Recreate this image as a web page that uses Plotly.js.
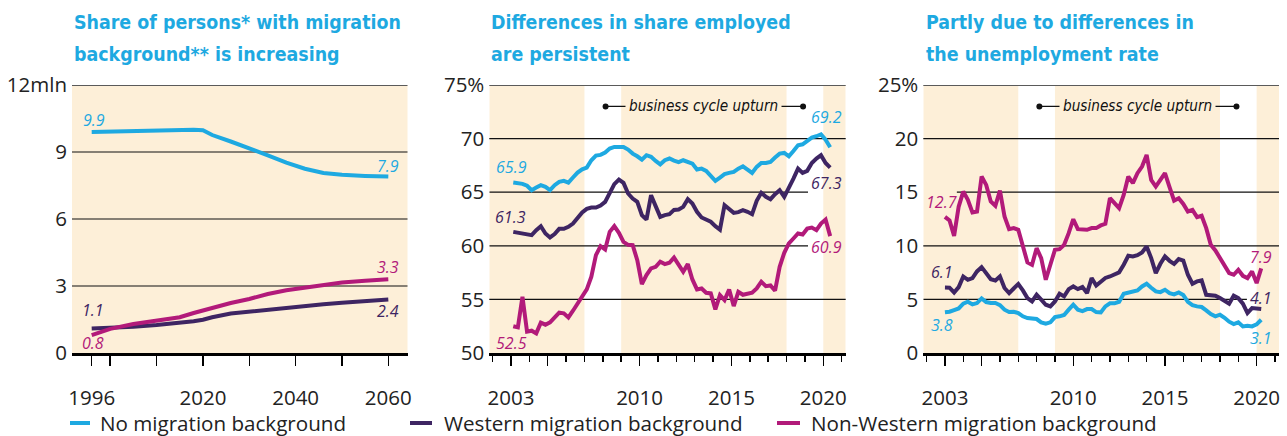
<!DOCTYPE html>
<html><head><meta charset="utf-8">
<script src="https://cdn.plot.ly/plotly-3.0.1.min.js"></script>
<style>html,body{margin:0;padding:0;background:#fff;}#chart{width:1287px;height:436px;}</style>
</head><body><div id="chart"></div>
<script>
// ---------- DATA ----------
// Panel 1: population (mln) by migration background, 1996-2060
const popYears = [1996, 2000, 2005, 2010, 2015, 2018, 2020, 2022, 2026, 2030, 2034, 2038, 2042, 2046, 2050, 2055, 2060];
const popNone = [9.9, 9.92, 9.93, 9.95, 9.99, 10.0, 9.97, 9.76, 9.47, 9.18, 8.85, 8.52, 8.25, 8.06, 7.98, 7.93, 7.9];
const popWestern = [1.1, 1.13, 1.18, 1.25, 1.34, 1.42, 1.49, 1.6, 1.77, 1.86, 1.94, 2.02, 2.1, 2.18, 2.25, 2.31, 2.4];
const popNonWestern = [0.8, 1.08, 1.3, 1.47, 1.6, 1.79, 1.91, 2.0, 2.24, 2.42, 2.64, 2.81, 2.94, 3.07, 3.16, 3.24, 3.3];

// Quarters 2003Q1 .. 2020Q2
const quarterLabels = [];
for (let y = 2003; y <= 2020; y++) for (let q = 1; q <= 4; q++) if (!(y === 2020 && q > 2)) quarterLabels.push(y + 'Q' + q);
const quarterX = quarterLabels.map(s => +s.slice(0, 4) + (+s.slice(5) - 1) / 4);
const empQuarterX = quarterX.map(v => v + 0.125);

// Panel 2: share employed (%)
const empNone = [65.9, 65.84, 65.78, 65.6, 65.19, 65.43, 65.65, 65.5, 65.19, 65.65,
  65.96, 66.06, 65.9, 66.37, 66.83, 67.14, 67.3, 67.98, 68.42, 68.48,
  68.7, 69.07, 69.22, 69.22, 69.22, 68.98, 68.6, 68.35, 68.04, 68.45,
  68.3, 67.92, 67.6, 67.98, 68.14, 67.94, 67.8, 67.98, 67.83, 67.67,
  67.11, 67.2, 66.99, 66.58, 66.06, 66.37, 66.68, 66.8, 66.9, 67.2,
  67.42, 67.11, 66.8, 67.36, 67.73, 67.73, 67.83, 68.23, 68.6, 68.66,
  68.35, 68.85, 69.38, 69.47, 69.84, 70.09, 70.22, 70.4, 69.9, 69.2];
const empWestern = [61.3, 61.21, 61.15, 61.09, 60.99, 61.46, 61.83, 61.15, 60.78, 61.09,
  61.58, 61.58, 61.77, 62.08, 62.64, 63.11, 63.45, 63.57, 63.57, 63.76,
  64.1, 64.94, 65.75, 66.18, 65.87, 64.88, 64.41, 64.1, 62.86, 62.45,
  64.72, 63.7, 62.7, 62.86, 62.95, 63.35, 63.39, 63.63, 64.35, 63.94,
  63.17, 62.64, 62.45, 62.24, 61.83, 61.5, 63.79, 63.39, 63.07, 63.14,
  63.32, 63.17, 62.95, 64.19, 64.94, 64.57, 64.35, 64.81, 65.19, 64.57,
  65.34, 66.27, 67.2, 66.8, 66.99, 67.73, 68.14, 68.45, 67.73, 67.3];
const empNonWestern = [52.5, 52.39, 55.25, 51.99, 52.08, 51.83, 52.83, 52.64, 52.86, 53.32,
  53.76, 53.7, 53.32, 53.94, 54.63, 55.4, 55.93, 57.11, 59.13, 59.97,
  59.66, 61.3, 61.83, 61.21, 60.37, 60.09, 60.06, 58.66, 56.43, 57.27,
  57.89, 58.04, 58.51, 58.29, 58.42, 58.9, 58.2, 57.58, 58.29, 56.86,
  55.93, 56.02, 55.62, 55.56, 54.07, 55.4, 54.94, 55.93, 54.38, 55.71,
  55.43, 55.56, 55.62, 56.02, 56.65, 56.24, 56.3, 55.81, 58.04, 59.35,
  60.22, 60.68, 61.15, 61.06, 61.6, 61.7, 61.46, 62.08, 62.45, 60.9];

// Panel 3: unemployment rate (%)
const unNone = [3.8, 3.85, 4.01, 4.16, 4.6, 4.78, 4.53, 4.66, 5.09, 4.75,
  4.66, 4.66, 4.47, 4.04, 3.82, 3.85, 3.73, 3.42, 3.26, 3.26,
  3.17, 2.86, 2.73, 2.86, 3.35, 3.42, 3.54, 4.04, 4.5, 4.04,
  3.91, 4.1, 4.1, 3.82, 3.79, 4.35, 4.63, 4.63, 4.78, 5.53,
  5.65, 5.71, 5.84, 6.21, 6.46, 6.09, 5.75, 5.68, 5.9, 5.59,
  5.47, 5.65, 5.4, 4.78, 4.47, 4.35, 4.29, 3.98, 3.63, 3.42,
  3.57, 3.29, 2.92, 2.7, 2.86, 2.48, 2.55, 2.48, 2.67, 3.1];
const unWestern = [6.1, 6.09, 5.65, 6.15, 7.14, 6.83, 6.99, 7.61, 8.01, 7.39,
  6.89, 6.77, 7.14, 6.06, 5.59, 6.02, 6.43, 5.84, 5.12, 4.81,
  5.43, 4.97, 4.5, 4.35, 4.81, 5.53, 5.28, 5.96, 6.21, 5.96,
  6.15, 5.59, 6.99, 6.3, 6.7, 7.0, 7.14, 7.3, 7.52, 8.23,
  9.07, 9.01, 9.13, 9.38, 9.94, 8.85, 7.45, 8.32, 9.01, 8.6,
  8.32, 8.76, 8.63, 7.3, 6.46, 6.68, 6.77, 5.43, 5.43, 5.34,
  5.12, 4.91, 4.6, 5.34, 5.12, 4.6, 3.73, 4.19, 4.1, 4.1];
const unNonWestern = [12.7, 12.36, 10.93, 13.66, 15.06, 14.29, 13.11, 13.2, 16.46, 15.68,
  14.13, 13.73, 15.16, 12.73, 11.55, 11.65, 11.49, 10.09, 8.45, 8.23,
  9.78, 8.85, 6.83, 8.23, 9.63, 9.69, 10.09, 11.18, 12.48, 11.55,
  11.49, 11.49, 11.65, 11.65, 11.9, 12.05, 14.44, 13.91, 13.51, 14.75,
  16.46, 15.84, 16.77, 17.39, 18.48, 16.15, 15.53, 16.15, 16.77, 15.47,
  14.22, 14.44, 13.91, 13.2, 13.35, 12.67, 12.8, 11.65, 10.09, 9.57,
  8.85, 8.07, 7.45, 7.3, 7.76, 7.2, 6.99, 7.61, 6.52, 7.9];

const seriesNames = ['No migration background', 'Western migration background', 'Non-Western migration background'];
const titles = [
  ['Share of persons* with migration', 'background** is increasing'],
  ['Differences in share employed', 'are persistent'],
  ['Partly due to differences in', 'the unemployment rate']
];
const upturnLabel = 'business cycle upturn';
// business cycle upturn periods (white bands) and marker positions
const upturnBands = [[2007, 2009], [2018, 2020]];
const upturnMarks = [2008.15, 2018.9];

// ---------- STYLE ----------
const C = ['#1ea9e1', '#3e2563', '#b21a7a'];
const BEIGE = '#fdefd8';
const FONT = 'Open Sans, Noto Sans, sans-serif';
const NARROW = 'Liberation Sans Narrow, DejaVu Sans Condensed, Roboto, sans-serif';
const LW = 4;

const W = 1287, H = 436;
const yDom = [83 / H, 351 / H];
const xDom = [[72 / W, 407.5 / W], [489.3 / W, 845.7 / W], [923.3 / W, 1279 / W]];
const r1 = [1991.75, 2064.14], rq = [2001.82, 2021.22];

function line(x, y, xa, ya, c) {
  return {x: x, y: y, xaxis: xa, yaxis: ya, type: 'scatter', mode: 'lines',
    line: {color: c, width: LW}, showlegend: false, hoverinfo: 'skip'};
}
const traces = [
  line(popYears, popNone, 'x', 'y', C[0]),
  line(popYears, popWestern, 'x', 'y', C[1]),
  line(popYears, popNonWestern, 'x', 'y', C[2]),
  line(empQuarterX, empNone, 'x2', 'y2', C[0]),
  line(empQuarterX, empWestern, 'x2', 'y2', C[1]),
  line(empQuarterX, empNonWestern, 'x2', 'y2', C[2]),
  line(quarterX, unNone, 'x3', 'y3', C[0]),
  line(quarterX, unWestern, 'x3', 'y3', C[1]),
  line(quarterX, unNonWestern, 'x3', 'y3', C[2])
];

const tickFont = {family: FONT, size: 20.5, color: '#222'};
function xax(dom, range, tv, tt, minor) {
  const a = {domain: dom, range: range, tickmode: 'array', tickvals: tv, ticktext: tt,
    ticks: 'outside', ticklen: 10, tickwidth: 1.5, tickcolor: '#000',
    showline: true, linecolor: '#000', linewidth: 3, showgrid: false, zeroline: false,
    tickfont: tickFont, ticklabelstandoff: 14, fixedrange: true};
  if (minor) a.minor = {tickmode: 'linear', tick0: 2003, dtick: 1, ticks: 'outside', ticklen: 6, tickwidth: 1.5, tickcolor: '#000', showgrid: false};
  return a;
}
function yax(range, tv, tt, anchor) {
  return {domain: yDom, range: range, anchor: anchor, tickmode: 'array', tickvals: tv, ticktext: tt,
    ticks: '', showline: false, showgrid: false, zeroline: false, tickfont: tickFont, ticklabelstandoff: 4, fixedrange: true};
}

const shapes = [];
const annotations = [];
// background bands
shapes.push({type: 'rect', layer: 'below', xref: 'x domain', yref: 'y domain', x0: 0, x1: 1, y0: 0, y1: 1, fillcolor: BEIGE, line: {width: 0}});
[['x2', 'y2'], ['x3', 'y3']].forEach(([xr, yr]) => {
  const edges = [rq[0], upturnBands[0][0], upturnBands[0][1], upturnBands[1][0], upturnBands[1][1], rq[1]];
  for (let k = 0; k < 6; k += 2) shapes.push({type: 'rect', layer: 'below', xref: xr, yref: yr + ' domain', x0: edges[k], x1: edges[k + 1], y0: 0, y1: 1, fillcolor: BEIGE, line: {width: 0}});
});
// grid lines
function grid(xr, yr, y, x0, x1, top) {
  shapes.push({type: 'line', layer: 'below', xref: xr, yref: yr, x0: x0, x1: x1, y0: y, y1: y,
    line: {color: top ? '#5a5a5a' : '#111', width: top ? 2 : 1.2}});
}
[3, 6, 9].forEach(v => grid('x domain', 'y', v, 0, 1));
grid('x domain', 'y', 12, 0, 1, true);
grid('x2 domain', 'y2', 75, 0, 1, true);
grid('x2 domain', 'y2', 70, 0, 1);
grid('x2', 'y2', 65, rq[0], 2019.17);
grid('x2', 'y2', 60, rq[0], 2019.17);
grid('x2 domain', 'y2', 55, 0, 1);
grid('x3 domain', 'y3', 25, 0, 1, true);
grid('x3 domain', 'y3', 20, 0, 1);
grid('x3', 'y3', 15, 2003.65, rq[1]);
grid('x3 domain', 'y3', 10, 0, 1);
grid('x3', 'y3', 5, rq[0], 2019.47);

// business cycle upturn markers
[['x2', 'y2', 73], ['x3', 'y3', 23]].forEach(([xr, yr, yv]) => {
  shapes.push({type: 'line', xref: xr, yref: yr, x0: upturnMarks[0], x1: upturnMarks[1], y0: yv, y1: yv, line: {color: '#111', width: 1.2}});
  upturnMarks.forEach(xm => shapes.push({type: 'circle', xref: xr, yref: yr, xsizemode: 'pixel', ysizemode: 'pixel',
    xanchor: xm, yanchor: yv, x0: -3, x1: 3, y0: -3, y1: 3, fillcolor: '#111', line: {width: 0}}));
  annotations.push({xref: xr, yref: yr, x: 2013.5, y: yv, text: '<i>' + upturnLabel + '</i>', showarrow: false,
    font: {family: NARROW, size: 15.2, color: '#111'}, bgcolor: BEIGE, borderpad: 3});
});

// titles
titles.forEach((t, k) => {
  const x0 = [72, 489, 924][k] / W;
  annotations.push({xref: 'paper', yref: 'paper', x: x0, y: 1 - 22 / H, xanchor: 'left', yanchor: 'middle', text: '<b>' + t[0] + '</b>', showarrow: false, font: {family: NARROW, size: 19.4, color: C[0]}});
  annotations.push({xref: 'paper', yref: 'paper', x: x0, y: 1 - 55 / H, xanchor: 'left', yanchor: 'middle', text: '<b>' + t[1] + '</b>', showarrow: false, font: {family: NARROW, size: 19.4, color: C[0]}});
});

// value labels
function lab(xr, yr, x, y, txt, c) {
  annotations.push({xref: xr, yref: yr, x: x, y: y, text: '<i>' + txt + '</i>', showarrow: false, font: {family: FONT, size: 16, color: c}});
}
lab('x', 'y', 1996.4, 10.43, popNone[0].toFixed(1), C[0]);
lab('x', 'y', 2060, 8.37, popNone[popNone.length - 1].toFixed(1), C[0]);
lab('x', 'y', 1996.3, 1.93, popWestern[0].toFixed(1), C[1]);
lab('x', 'y', 1996.3, 0.45, popNonWestern[0].toFixed(1), C[2]);
lab('x', 'y', 2060, 3.85, popNonWestern[popNonWestern.length - 1].toFixed(1), C[2]);
lab('x', 'y', 2060, 1.88, popWestern[popWestern.length - 1].toFixed(1), C[1]);
lab('x2', 'y2', 2003.05, 67.32, empNone[0].toFixed(1), C[0]);
lab('x2', 'y2', 2002.97, 62.73, empWestern[0].toFixed(1), C[1]);
lab('x2', 'y2', 2003.05, 50.93, empNonWestern[0].toFixed(1), C[2]);
lab('x2', 'y2', 2020.15, 71.98, empNone[empNone.length - 1].toFixed(1), C[0]);
lab('x2', 'y2', 2020.15, 65.84, empWestern[empWestern.length - 1].toFixed(1), C[1]);
lab('x2', 'y2', 2020.15, 59.86, empNonWestern[empNonWestern.length - 1].toFixed(1), C[2]);
lab('x3', 'y3', 2002.82, 14.04, unNonWestern[0].toFixed(1), C[2]);
lab('x3', 'y3', 2002.82, 7.6, unWestern[0].toFixed(1), C[1]);
lab('x3', 'y3', 2002.82, 2.57, unNone[0].toFixed(1), C[0]);
lab('x3', 'y3', 2020.23, 8.91, unNonWestern[unNonWestern.length - 1].toFixed(1), C[2]);
lab('x3', 'y3', 2020.23, 5.1, unWestern[unWestern.length - 1].toFixed(1), C[1]);
lab('x3', 'y3', 2020.23, 1.37, unNone[unNone.length - 1].toFixed(1), C[0]);

// legend (drawn)
const legLine = [[70, 90], [410, 432], [777, 800]];
const legText = [99, 443, 810];
seriesNames.forEach((n, k) => {
  shapes.push({type: 'line', xref: 'paper', yref: 'paper', x0: legLine[k][0] / W, x1: legLine[k][1] / W, y0: 1 - 423 / H, y1: 1 - 423 / H, line: {color: C[k], width: LW}});
  annotations.push({xref: 'paper', yref: 'paper', x: legText[k] / W, y: 1 - 423 / H, xanchor: 'left', yanchor: 'middle', text: n, showarrow: false, font: {family: FONT, size: 20.6, color: '#222'}, borderpad: 0});
});

const layout = {
  width: W, height: H, margin: {l: 0, r: 0, t: 0, b: 0}, paper_bgcolor: '#fff', plot_bgcolor: '#fff',
  showlegend: false,
  xaxis: xax(xDom[0], r1, [1996, 2000, 2010, 2020, 2030, 2040, 2050, 2060], ['1996', '', '', '2020', '', '2040', '', '2060'], false),
  yaxis: yax([0, 12], [0, 3, 6, 9, 12], ['0', '3', '6', '9', '12mln'], 'x'),
  xaxis2: Object.assign(xax(xDom[1], rq, [2003, 2005, 2010, 2015, 2020], ['2003', '', '2010', '2015', '2020'], true), {anchor: 'y2'}),
  yaxis2: yax([50, 75], [50, 55, 60, 65, 70, 75], ['50', '55', '60', '65', '70', '75%'], 'x2'),
  xaxis3: Object.assign(xax(xDom[2], rq, [2003, 2005, 2010, 2015, 2020], ['2003', '', '2010', '2015', '2020'], true), {anchor: 'y3'}),
  yaxis3: yax([0, 25], [0, 5, 10, 15, 20, 25], ['0', '5', '10', '15', '20', '25%'], 'x3'),
  shapes: shapes, annotations: annotations
};
layout.xaxis.anchor = 'y';
Plotly.newPlot('chart', traces, layout, {displayModeBar: false, staticPlot: true});
</script></body></html>
